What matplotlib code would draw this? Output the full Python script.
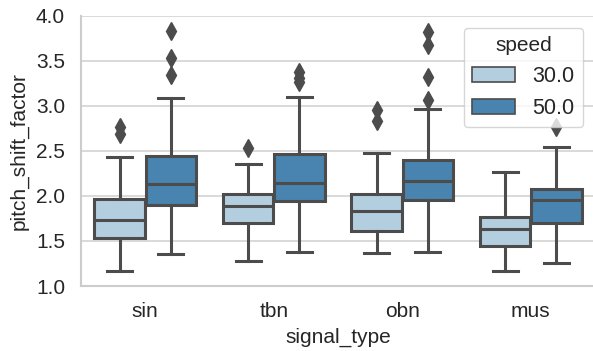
import colorsys
import matplotlib
matplotlib.use("Agg")
import matplotlib.pyplot as plt
from matplotlib.patches import Patch
from matplotlib.colors import to_rgb

# values (box stats per signal type)
signal_types = ["sin", "tbn", "obn", "mus"]
speeds = ["30.0", "50.0"]

whislo_30 = [1.17, 1.28, 1.37, 1.17]
q1_30 = [1.53, 1.70, 1.61, 1.44]
med_30 = [1.73, 1.89, 1.83, 1.63]
q3_30 = [1.97, 2.02, 2.02, 1.77]
whishi_30 = [2.43, 2.35, 2.48, 2.27]
fliers_30 = [[2.69, 2.76], [2.53], [2.83, 2.95], []]

whislo_50 = [1.35, 1.38, 1.38, 1.25]
q1_50 = [1.90, 1.94, 1.96, 1.70]
med_50 = [2.13, 2.14, 2.16, 1.95]
q3_50 = [2.44, 2.46, 2.40, 2.08]
whishi_50 = [3.09, 3.10, 2.96, 2.54]
fliers_50 = [[3.34, 3.53, 3.83], [3.26, 3.31, 3.38], [3.06, 3.32, 3.68, 3.82], [2.77]]


def desat(c, prop=0.75):
    h, l, s = colorsys.rgb_to_hls(*to_rgb(c))
    return colorsys.hls_to_rgb(h, l, s * prop)


blues = plt.get_cmap("Blues")
colors = [desat(blues(1 / 3)), desat(blues(2 / 3))]
gray = "#4c4c4c"

plt.rcParams["font.family"] = ["Liberation Sans", "DejaVu Sans"]

fig = plt.figure(figsize=(5.93, 3.51), dpi=100)
ax = fig.add_axes([81 / 593, 65 / 351, 514 / 593, 270.3 / 351])

groups = [
    (whislo_30, q1_30, med_30, q3_30, whishi_30, fliers_30),
    (whislo_50, q1_50, med_50, q3_50, whishi_50, fliers_50),
]
offsets = [-0.2, 0.2]

for j, (wlo, q1, med, q3, whi, fl) in enumerate(groups):
    stats = []
    for i in range(len(signal_types)):
        stats.append(dict(whislo=wlo[i], q1=q1[i], med=med[i], q3=q3[i],
                          whishi=whi[i], fliers=fl[i]))
    pos = [i + offsets[j] for i in range(len(signal_types))]
    ax.bxp(stats, positions=pos, widths=0.39, patch_artist=True,
           manage_ticks=False,
           boxprops=dict(facecolor=colors[j], edgecolor=gray, linewidth=2.2),
           medianprops=dict(color=gray, linewidth=2.2),
           whiskerprops=dict(color=gray, linewidth=2.2),
           capprops=dict(color=gray, linewidth=2.2),
           flierprops=dict(marker="d", markersize=9, markerfacecolor=gray,
                           markeredgecolor=gray))

ax.set_xlim(-0.5, 3.5)
ax.set_ylim(1.0, 4.0)
ax.set_xticks(range(len(signal_types)))
ax.set_xticklabels(signal_types)
ax.set_yticks([1.0, 1.5, 2.0, 2.5, 3.0, 3.5, 4.0])
ax.set_yticklabels([f"{v:.1f}" for v in ax.get_yticks()])
ax.tick_params(length=0, labelsize=15, colors="#262626", pad=11.5)
ax.grid(axis="y", color="#d3d3d3", linewidth=1.2)
ax.set_axisbelow(True)
for s in ["top", "right"]:
    ax.spines[s].set_visible(False)
for s in ["left", "bottom"]:
    ax.spines[s].set_color("#cccccc")
    ax.spines[s].set_linewidth(1.5)

ax.set_xlabel("signal_type", fontsize=15, color="#262626", labelpad=5)
ax.set_ylabel("pitch_shift_factor", fontsize=15, color="#262626", labelpad=5)

handles = [Patch(facecolor=colors[k], edgecolor=gray, linewidth=1.2) for k in range(2)]
leg = ax.legend(handles, speeds, title="speed", loc="upper right",
                fontsize=15.5, title_fontsize=15, frameon=True, fancybox=True,
                framealpha=0.8, edgecolor="#cccccc", borderaxespad=0.55)
for t in leg.get_texts():
    t.set_color("#262626")
leg.get_title().set_color("#262626")

fig.savefig("out.png", dpi=100)
